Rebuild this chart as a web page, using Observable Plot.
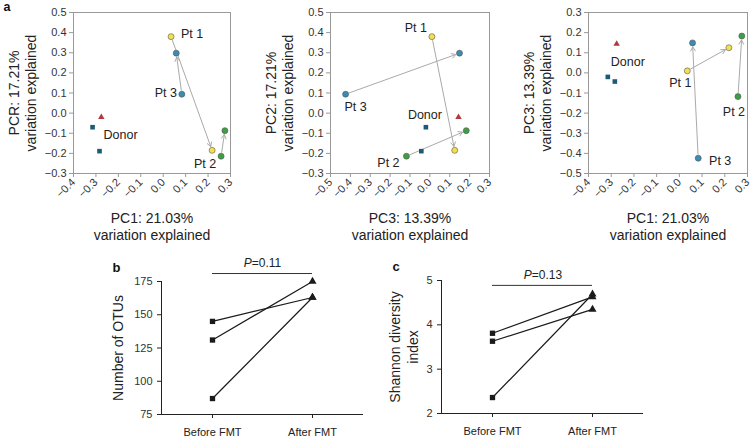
<!DOCTYPE html>
<html><head><meta charset="utf-8">
<script src="https://cdn.jsdelivr.net/npm/d3@7"></script>
<script src="https://cdn.jsdelivr.net/npm/@observablehq/plot@0.6"></script>
<style>
body{margin:0;background:#fff;}
#root{position:relative;width:750px;height:437px;font-family:"Liberation Sans",Arial,sans-serif;color:#222;}
.panel{position:absolute;}
</style></head><body><div id="root"></div>
<script>
// ---------- data: PCA panels ----------
const patients = ["Pt 1", "Pt 2", "Pt 3"];
const ptColors = ["#f2e04e", "#3f9e44", "#3a8cb3"];
const pc1Before = [0.035, 0.258, 0.083];
const pc1After  = [0.218, 0.275, 0.058];
const pc2Before = [0.38, -0.214, 0.094];
const pc2After  = [-0.185, -0.087, 0.298];
const pc3Before = [0.01, -0.118, -0.424];
const pc3After  = [0.125, 0.183, 0.149];
const donorKind = ["square", "square", "triangle"];
const donorPC1 = [-0.315, -0.284, -0.276];
const donorPC2 = [-0.07, -0.189, -0.02];
const donorPC3 = [-0.02, -0.043, 0.144];
const ticksA1x = [-0.4, -0.3, -0.2, -0.1, 0.0, 0.1, 0.2, 0.3];
const ticksA1y = [-0.3, -0.2, -0.1, 0.0, 0.1, 0.2, 0.3, 0.4, 0.5];
const ticksA2x = [-0.5, -0.4, -0.3, -0.2, -0.1, 0.0, 0.1, 0.2, 0.3];
const ticksA3y = [-0.5, -0.4, -0.3, -0.2, -0.1, 0.0, 0.1, 0.2, 0.3];
// ---------- data: OTU / Shannon panels ----------
const groups = ["Before FMT", "After FMT"];
const otusBefore = [145, 131, 87];
const otusAfter  = [163, 175, 163];
const shannonBefore = [3.81, 3.63, 2.36];
const shannonAfter  = [4.63, 4.35, 4.69];
const ticksOtus = [75, 100, 125, 150, 175];
const ticksShannon = [2, 3, 4, 5];
const pValueB = "0.11";
const pValueC = "0.13";

const FONT = "Liberation Sans, Arial, sans-serif";
const fmt = d3.format(".1f");
const root = document.getElementById("root");
function place(svg, left, top) {
  const div = document.createElement("div");
  div.className = "panel";
  div.style.left = left + "px";
  div.style.top = top + "px";
  div.appendChild(svg);
  root.appendChild(div);
}

function pca(cfg) {
  const {xb, xa, yb, ya, dX, dY, xDomain, yDomain, xTicks, yTicks, xLabel, yLabel, offs, donorOff, width, marginLeft, marginRight, letter} = cfg;
  const pts = patients.flatMap((p, i) => [
    {p, c: ptColors[i], x: xb[i], y: yb[i]},
    {p, c: ptColors[i], x: xa[i], y: ya[i]}
  ]);
  const arrows = patients.map((p, i) => ({x1: xb[i], y1: yb[i], x2: xa[i], y2: ya[i]}));
  const donors = donorKind.map((k, i) => ({k, x: dX[i], y: dY[i]}));
  const labels = patients.map((p, i) =>
    Plot.text([{p, x: xb[i], y: yb[i]}], {x: "x", y: "y", text: "p", dx: offs[i][0], dy: offs[i][1], fontSize: 12.5, fill: "#222"}));
  labels.push(Plot.text([donors[0]], {x: "x", y: "y", text: () => "Donor", dx: donorOff[0], dy: donorOff[1], fontSize: 12.5, fill: "#222"}));
  const marks = [
    Plot.frame({stroke: "#999"}),
    Plot.axisX({ticks: xTicks, tickFormat: fmt, tickRotate: -45, tickSize: 4, tickPadding: 3, stroke: "#999", fill: "#333", fontSize: 11, label: null}),
    Plot.axisY({ticks: yTicks, tickFormat: fmt, tickSize: 4, tickPadding: 3, stroke: "#999", fill: "#333", fontSize: 11, label: null}),
    Plot.arrow(arrows, {x1: "x1", y1: "y1", x2: "x2", y2: "y2", stroke: "#aaa", strokeWidth: 1, headLength: 7, insetStart: 4, insetEnd: 4}),
    Plot.dot(donors.filter(d => d.k === "square"), {x: "x", y: "y", symbol: "square", r: 2.6, fill: "#1d5a74"}),
    Plot.dot(donors.filter(d => d.k === "triangle"), {x: "x", y: "y", symbol: "triangle", r: 2.4, fill: "#b3393c"}),
    Plot.dot(pts, {x: "x", y: "y", r: 3, fill: "c", stroke: "#555", strokeWidth: 0.6}),
    ...labels,
    Plot.text([xLabel], {frameAnchor: "bottom", textAnchor: "middle", lineAnchor: "top", dy: 37, text: d => d, fontSize: 14, lineHeight: 1.22, fill: "#222"}),
    Plot.text([yLabel], {frameAnchor: "left", textAnchor: "middle", rotate: -90, lineAnchor: "top", dx: -67, text: d => d, fontSize: 14, lineHeight: 1.25, fill: "#222"})
  ];
  if (letter) marks.push(Plot.text([letter], {frameAnchor: "top-left", textAnchor: "start", lineAnchor: "middle", dx: -70, dy: -6, text: d => d, fontSize: 12.5, fontWeight: "bold", fill: "#111"}));
  return Plot.plot({
    width, height: 245, marginLeft, marginRight, marginTop: 12, marginBottom: 72,
    style: {background: "transparent", overflow: "visible", fontFamily: FONT},
    x: {domain: xDomain}, y: {domain: yDomain},
    color: {type: "identity"},
    marks
  });
}

place(pca({xb: pc1Before, xa: pc1After, yb: pc2Before, ya: pc2After, dX: donorPC1, dY: donorPC2,
  xDomain: [-0.4, 0.3], yDomain: [-0.3, 0.5], xTicks: ticksA1x, yTicks: ticksA1y,
  xLabel: "PC1: 21.03%\nvariation explained", yLabel: "PCR: 17.21%\nvariation explained",
  offs: [[21, -3], [-16, 8], [-16, -1]], donorOff: [28, 8], width: 240, marginLeft: 73, marginRight: 10, letter: "a"}), 0, 0);
place(pca({xb: pc3Before, xa: pc3After, yb: pc2Before, ya: pc2After, dX: donorPC3, dY: donorPC2,
  xDomain: [-0.5, 0.3], yDomain: [-0.3, 0.5], xTicks: ticksA2x, yTicks: ticksA1y,
  xLabel: "PC3: 13.39%\nvariation explained", yLabel: "PC2: 17.21%\nvariation explained",
  offs: [[-16, -9], [-18, 7], [10, 13]], donorOff: [-1, -12], width: 250, marginLeft: 85, marginRight: 6}), 245, 0);
place(pca({xb: pc1Before, xa: pc1After, yb: pc3Before, ya: pc3After, dX: donorPC1, dY: donorPC3,
  xDomain: [-0.4, 0.3], yDomain: [-0.5, 0.3], xTicks: ticksA1x, yTicks: ticksA3y,
  xLabel: "PC1: 21.03%\nvariation explained", yLabel: "PC3: 13.39%\nvariation explained",
  offs: [[-7, 12], [-4, 15], [22, 3]], donorOff: [20, -15], width: 250, marginLeft: 88, marginRight: 3}), 500, 0);

function paired(cfg) {
  const {before, after, yDomain, yTicks, yLabel, labelDx, bracket, pValue, marginTop, marginBottom, letter} = cfg;
  const long = patients.flatMap((p, i) => [
    {p, g: groups[0], v: before[i]},
    {p, g: groups[1], v: after[i]}
  ]);
  const step = 201 / 2;
  return Plot.plot({
    width: 270, height: 192, marginLeft: 61, marginRight: 8, marginTop, marginBottom,
    style: {background: "transparent", overflow: "visible", fontFamily: FONT},
    x: {type: "point", domain: groups, padding: 0.5},
    y: {domain: yDomain},
    marks: [
      Plot.axisY({ticks: yTicks, tickFormat: d3.format("d"), tickSize: 4, tickPadding: 5, stroke: "#222", fill: "#333", fontSize: 11, label: null}),
      Plot.axisX({tickSize: 4, tickPadding: 10, stroke: "#222", fill: "#222", fontSize: 11, label: null}),
      Plot.frame({anchor: "left", stroke: "#222"}),
      Plot.frame({anchor: "bottom", stroke: "#222"}),
      Plot.line(long, {x: "g", y: "v", z: "p", stroke: "#1a1a1a", strokeWidth: 1.2}),
      Plot.dot(long.filter(d => d.g === groups[0]), {x: "g", y: "v", symbol: "square", r: 3, fill: "#1a1a1a"}),
      Plot.dot(long.filter(d => d.g === groups[1]), {x: "g", y: "v", symbol: "triangle", r: 3, fill: "#1a1a1a"}),
      Plot.ruleY([bracket], {x1: () => groups[0], x2: () => groups[1], stroke: "#333", strokeWidth: 1}),
      Plot.text([bracket], {x: () => groups[0], y: d => d, text: () => "P", dx: step / 2 - 19, dy: -10, textAnchor: "start", fontStyle: "italic", fontSize: 12, fill: "#222"}),
      Plot.text([bracket], {x: () => groups[0], y: d => d, text: () => "=" + pValue, dx: step / 2 - 11, dy: -10, textAnchor: "start", fontSize: 12, fill: "#222"}),
      Plot.text([yLabel], {frameAnchor: "left", textAnchor: "middle", rotate: -90, lineAnchor: "middle", dx: labelDx, text: d => d, fontSize: 14, lineHeight: 1.3, fill: "#222"}),
      Plot.text([letter], {frameAnchor: "top-left", textAnchor: "start", lineAnchor: "middle", dx: -49, dy: -14, text: d => d, fontSize: 13, fontWeight: "bold", fill: "#111"})
    ]
  });
}

place(paired({before: otusBefore, after: otusAfter, yDomain: [75, 175], yTicks: ticksOtus,
  yLabel: "Number of OTUs", labelDx: -44, bracket: 181, pValue: pValueB, marginTop: 36, marginBottom: 23, letter: "b"}), 100, 245);
place(paired({before: shannonBefore, after: shannonAfter, yDomain: [2, 5], yTicks: ticksShannon,
  yLabel: "Shannon diversity\nindex", labelDx: -38.5, bracket: 4.89, pValue: pValueC, marginTop: 35, marginBottom: 24, letter: "c"}), 380, 245);
</script></body></html>
